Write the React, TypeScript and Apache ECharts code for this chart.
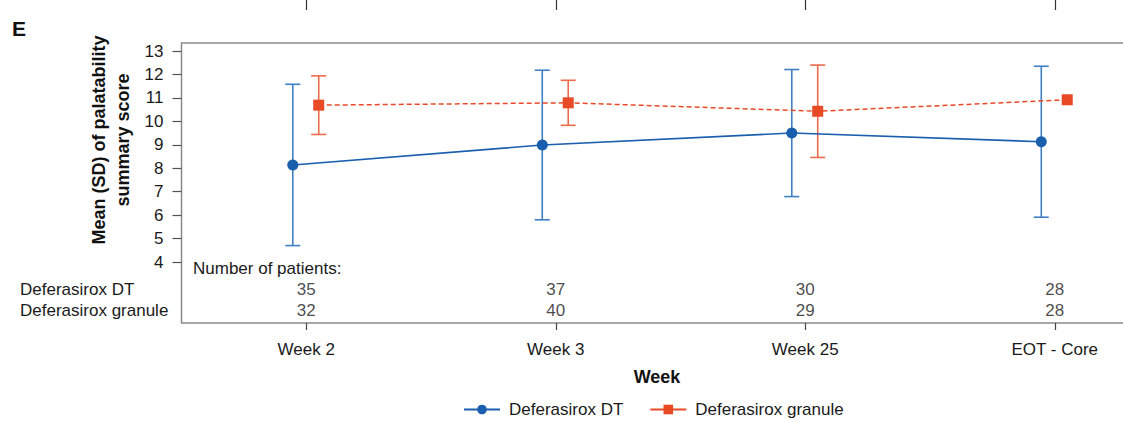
import React, { useEffect, useRef } from "react";
import * as echarts from "echarts";

const categories = ["Week 2", "Week 3", "Week 25", "EOT - Core"];
const seriesNames = ["Deferasirox DT", "Deferasirox granule"];
const dtMean = [8.14, 8.99, 9.5, 9.13];
const dtSD = [3.44, 3.19, 2.71, 3.22];
const granuleMean = [10.69, 10.79, 10.43, 10.92];
const granuleSD = [1.25, 0.96, 1.97, 0];
const dtN = [35, 37, 30, 28];
const granuleN = [32, 40, 29, 28];
const yMin = 4;
const yMax = 13;
const yStep = 1;

const FONT = "'Liberation Sans', Arial, sans-serif";
const BLUE = "#1a5eae";
const BLUE_BAR = "#3f7fc4";
const ORANGE = "#e84a26";
const ORANGE_BAR = "#ee6a4a";
const TEXT = "#1a1a1a";

const DT_OFFSET = -0.054;
const GR_OFFSET = 0.05;

const CANVAS_W = 1200;
const CANVAS_H = 421;

function errorBarSeries(name: string, means: number[], sds: number[], offset: number, color: string) {
  return {
    name,
    type: "custom",
    xAxisIndex: 1,
    yAxisIndex: 1,
    z: 1,
    silent: true,
    data: means.map((m, i) => [i + offset, m - sds[i], m + sds[i], sds[i]]),
    renderItem: (params: any, api: any) => {
      if (api.value(3) <= 0) return null;
      const x = api.value(0);
      const lo = api.coord([x, api.value(1)]);
      const hi = api.coord([x, api.value(2)]);
      const half = 7.5;
      const style = { stroke: color, lineWidth: 1.6 };
      return {
        type: "group",
        children: [
          { type: "line", shape: { x1: lo[0], y1: lo[1], x2: hi[0], y2: hi[1] }, style },
          { type: "line", shape: { x1: hi[0] - half, y1: hi[1], x2: hi[0] + half, y2: hi[1] }, style },
          { type: "line", shape: { x1: lo[0] - half, y1: lo[1], x2: lo[0] + half, y2: lo[1] }, style },
        ],
      };
    },
  };
}

export default function App() {
  const ref = useRef<HTMLDivElement>(null);
  useEffect(() => {
    if (!ref.current) return;
    const chart = echarts.init(ref.current, null, { renderer: "svg" });
    const gridLeft = 181.5;
    const gridWidth = 998;
    const gridRight = CANVAS_W - gridLeft - gridWidth;
    chart.setOption({
      animation: false,
      backgroundColor: "#ffffff",
      textStyle: { fontFamily: FONT },
      grid: [
        { left: gridLeft, right: gridRight, top: 43, height: 280, show: true, borderColor: "#8a8a8a", borderWidth: 1.5, backgroundColor: "transparent" },
        { left: gridLeft, right: gridRight, top: 51, height: 211 },
        { left: gridLeft, right: gridRight, top: 279, height: 42 },
        { left: gridLeft, right: gridRight, top: 0, height: 10 },
      ],
      xAxis: [
        {
          gridIndex: 0,
          type: "category",
          data: categories,
          boundaryGap: true,
          axisLine: { show: false },
          axisTick: { show: true, alignWithLabel: true, length: 7, lineStyle: { color: "#444", width: 1.2 } },
          axisLabel: { fontSize: 17, color: TEXT, margin: 18, fontFamily: FONT, interval: 0 },
          splitLine: { show: false },
        },
        { gridIndex: 1, type: "value", min: -0.5, max: 3.5, show: false },
        { gridIndex: 2, type: "value", min: -0.5, max: 3.5, show: false },
        {
          gridIndex: 3,
          type: "category",
          position: "bottom",
          data: categories,
          boundaryGap: true,
          axisLine: { show: false },
          axisTick: { show: true, alignWithLabel: true, inside: true, length: 10, lineStyle: { color: "#333", width: 1.2 } },
          axisLabel: { show: false },
          splitLine: { show: false },
        },
      ],
      yAxis: [
        { gridIndex: 0, type: "value", min: 0, max: 1, show: false },
        {
          gridIndex: 1,
          type: "value",
          min: yMin,
          max: yMax,
          interval: yStep,
          axisLine: { show: false, onZero: false },
          axisTick: { show: true, length: 9, lineStyle: { color: "#555", width: 1.2 } },
          axisLabel: { fontSize: 17, color: TEXT, margin: 18, fontFamily: FONT },
          splitLine: { show: false },
        },
        {
          gridIndex: 2,
          type: "category",
          data: seriesNames,
          inverse: true,
          axisLine: { show: false, onZero: false },
          axisTick: { show: false },
          axisLabel: { fontSize: 17, color: TEXT, align: "left", margin: 161.5, fontFamily: FONT, interval: 0 },
          splitLine: { show: false },
        },
        { gridIndex: 3, type: "value", show: false },
      ],
      legend: {
        data: seriesNames.map((name) => ({ name, lineStyle: { type: "solid" } })),
        left: 458,
        top: 396,
        itemWidth: 36,
        itemHeight: 12,
        itemGap: 26,
        textStyle: { fontSize: 17, color: TEXT, fontFamily: FONT, padding: [0, 0, 0, 4] },
      },
      graphic: [
        { type: "text", left: 12, top: 18, style: { text: "E", font: `bold 21px ${FONT}`, fill: "#111" } },
        {
          type: "text",
          x: 110.5,
          y: 140,
          rotation: Math.PI / 2,
          style: {
            text: "Mean (SD) of palatability\nsummary score",
            font: `bold 18px ${FONT}`,
            fill: "#111",
            align: "center",
            verticalAlign: "middle",
            lineHeight: 24,
          },
        },
        {
          type: "text",
          x: 193,
          y: 268,
          style: { text: "Number of patients:", font: `17px ${FONT}`, fill: TEXT, verticalAlign: "middle" },
        },
        {
          type: "text",
          x: 657,
          y: 377,
          style: { text: "Week", font: `bold 18px ${FONT}`, fill: "#111", align: "center", verticalAlign: "middle" },
        },
      ],
      series: [
        errorBarSeries("dtErr", dtMean, dtSD, DT_OFFSET, BLUE_BAR),
        errorBarSeries("grErr", granuleMean, granuleSD, GR_OFFSET, ORANGE_BAR),
        {
          name: seriesNames[0],
          type: "line",
          xAxisIndex: 1,
          yAxisIndex: 1,
          z: 3,
          data: dtMean.map((v, i) => [i + DT_OFFSET, v]),
          symbol: "circle",
          symbolSize: 11,
          itemStyle: { color: BLUE },
          lineStyle: { color: BLUE, width: 1.6 },
        },
        {
          name: seriesNames[1],
          type: "line",
          xAxisIndex: 1,
          yAxisIndex: 1,
          z: 3,
          data: granuleMean.map((v, i) => [i + GR_OFFSET, v]),
          symbol: "rect",
          symbolSize: 11,
          itemStyle: { color: ORANGE },
          lineStyle: { color: ORANGE, width: 1.5, type: [5, 3] },
        },
        {
          name: "nTable",
          type: "scatter",
          xAxisIndex: 2,
          yAxisIndex: 2,
          symbolSize: 0,
          silent: true,
          data: [
            ...dtN.map((n, i) => [i, seriesNames[0], n]),
            ...granuleN.map((n, i) => [i, seriesNames[1], n]),
          ],
          label: {
            show: true,
            position: "inside",
            fontSize: 17,
            color: TEXT,
            fontFamily: FONT,
            formatter: (p: any) => String(p.value[2]),
          },
        },
      ],
    });
    return () => chart.dispose();
  }, []);
  return <div ref={ref} style={{ position: "fixed", left: 0, top: 0, width: CANVAS_W, height: CANVAS_H }} />;
}
